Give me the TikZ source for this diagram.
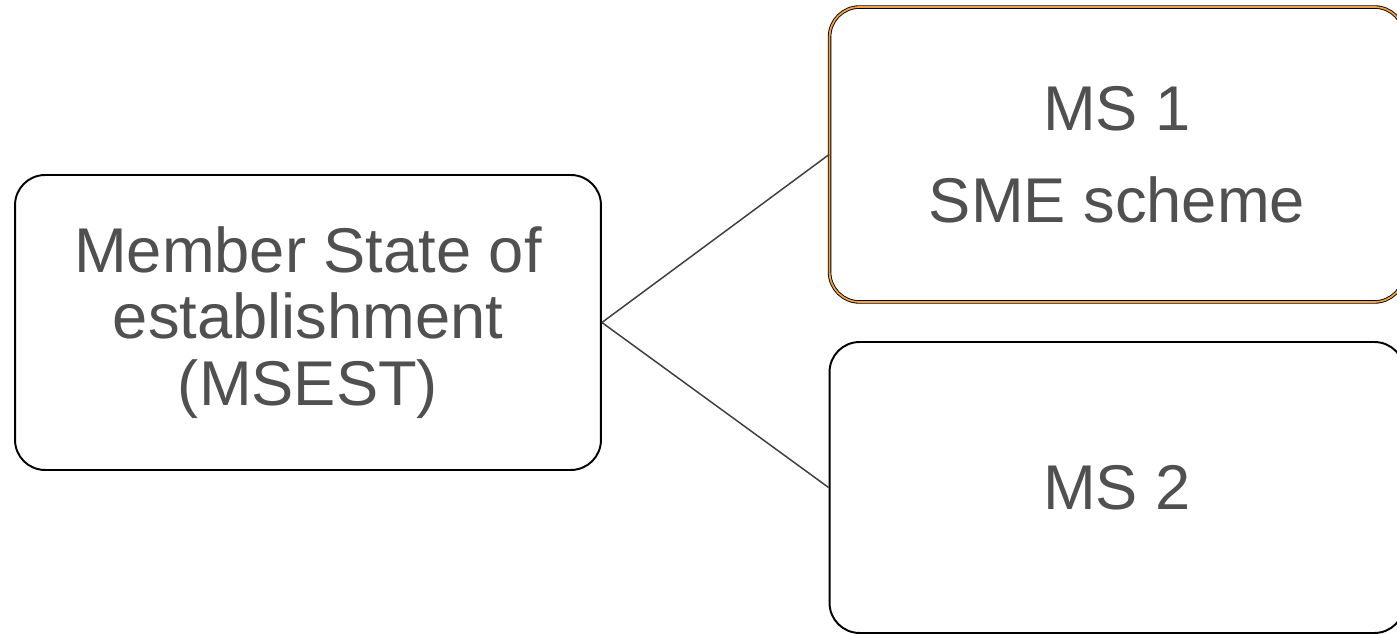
\documentclass[tikz,border=0pt]{standalone}
\usepackage{fontspec}
\setmainfont{Liberation Sans}
\usetikzlibrary{positioning}

\definecolor{textgray}{HTML}{505050}
\definecolor{linegray}{HTML}{404040}
\definecolor{msorange}{HTML}{F0A040}

\begin{document}
\begin{tikzpicture}[
    x=0.02cm, y=-0.02cm,
    statebox/.style={rectangle, draw=black, line width=1.1pt, rounded corners=0.6cm, align=center, text=textgray, font=\fontsize{36}{38}\selectfont, fill=white},
    chosenbox/.style={statebox, double=msorange, double distance=1pt, line width=0.5pt},
    link/.style={draw=linegray, line width=0.85pt}
]

\useasboundingbox (0,0) rectangle (1397,634);

% home state
\node[statebox, minimum width=11.72cm, minimum height=5.9cm] (msest) at (308,322.5) {Member State of\\establishment\\(MSEST)};

% host states
\node[chosenbox, minimum width=11.5cm, minimum height=5.9cm] (ms1) at (1117,154.5) {MS 1\\[0.5cm]SME scheme};
\node[statebox, minimum width=11.5cm, minimum height=5.82cm] (ms2) at (1117,487.5) {MS 2};

% links
\draw[link] (msest.east) -- (ms1.west);
\draw[link] (msest.east) -- (ms2.west);

\end{tikzpicture}
\end{document}
